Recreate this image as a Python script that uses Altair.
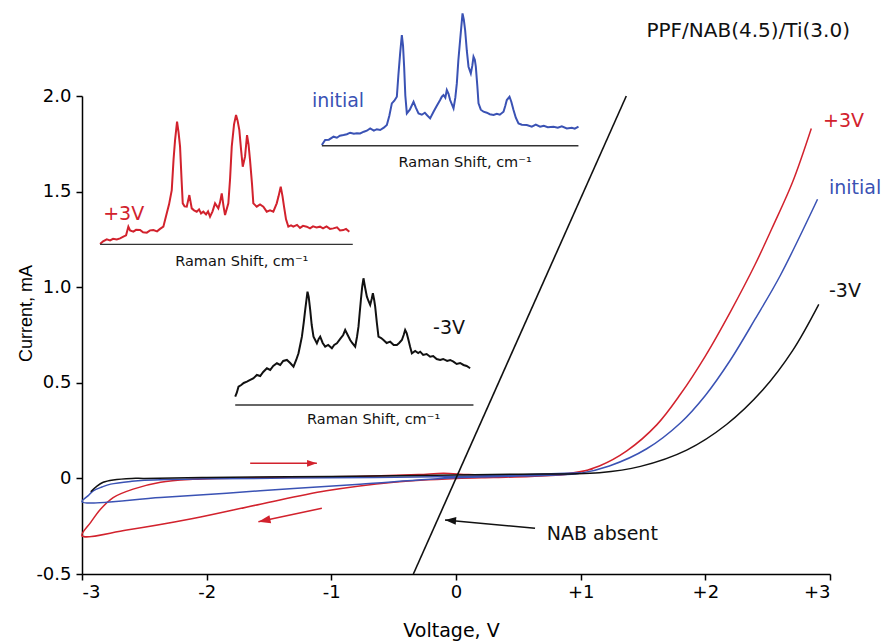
import altair as alt
import pandas as pd

# ---------------- I-V sweeps (Voltage, V ; Current, mA), in sweep order ----------------
red_v = [2.85, 2.70, 2.55, 2.40, 2.20, 2.00, 1.80, 1.61, 1.37, 1.15, 0.94, 0.60, 0.30, 0.00,
         -0.50, -1.04, -1.57, -2.11, -2.64, -3.00,
         -2.93, -2.85, -2.75, -2.59, -2.37, -2.11, -1.50, -0.80, -0.30, -0.10, 0.10, 0.50, 0.90, 1.10]
red_i = [1.83, 1.55, 1.33, 1.12, 0.87, 0.64, 0.44, 0.28, 0.144, 0.065, 0.025, 0.01, 0.005, 0.0,
         -0.02, -0.065, -0.135, -0.21, -0.27, -0.30,
         -0.23, -0.16, -0.10, -0.056, -0.02, -0.005, 0.005, 0.01, 0.02, 0.027, 0.02, 0.015, 0.025, 0.05]

blue_v = [2.90, 2.60, 2.40, 2.20, 2.00, 1.80, 1.53, 1.23, 0.98, 0.50, 0.00,
          -0.77, -1.57, -2.37, -3.00,
          -2.95, -2.91, -2.84, -2.77, -2.60, -2.50, -2.00, -1.00, 0.00, 0.50, 1.00]
blue_i = [1.46, 1.06, 0.834, 0.618, 0.434, 0.29, 0.155, 0.065, 0.025, 0.012, 0.003,
          -0.03, -0.065, -0.10, -0.122,
          -0.09, -0.065, -0.045, -0.03, -0.015, -0.01, -0.002, 0.003, 0.01, 0.018, 0.03]

black_v = [2.91, 2.70, 2.46, 2.17, 1.85, 1.48, 1.15, 0.50, 0.00, -1.00, -2.00, -2.50,
           -2.60, -2.75, -2.83, -2.88, -2.93]
black_i = [0.91, 0.668, 0.462, 0.282, 0.148, 0.063, 0.03, 0.022, 0.018, 0.01, 0.005, 0.0,
           0.0, -0.008, -0.02, -0.04, -0.07]

nab_v = [-0.342, 1.366]
nab_i = [-0.50, 2.00]

series_names = ["+3V", "initial", "-3V", "NAB absent"]
series_colors = ["#d2222d", "#3a52b4", "#111111", "#111111"]

# ---------------- Raman spectra (relative shift, relative intensity) ----------------
raman_red_shift = [0, 3, 6.7, 10, 13, 16.7, 20, 23.3, 26, 28.3, 30, 33.3, 36, 40, 43, 46.7, 50, 53.3, 57, 60,
                   63.3, 66.7, 69, 71.7, 73.5, 75, 77, 78.5, 80, 81.5, 82.7, 84.5, 86.7, 89.3, 91.7, 94,
                   96.7, 99, 101, 103.3, 106, 108, 110, 112.5, 115, 118.3, 120, 121.7, 123.5, 125, 128.3,
                   130, 131.7, 134, 136, 137.5, 139.3, 141, 142.7, 145, 147, 148.5, 150, 152, 153.3, 156.7,
                   160, 163.3, 166.7, 170, 173.3, 176.7, 178.5, 180.7, 182.5, 184, 186, 188.3, 191, 193.3,
                   197, 200, 203, 206.7, 210, 213, 216.5, 220, 223, 226.5, 230, 233.3, 237, 240, 243.3,
                   246, 249.3]
raman_red_int = [0.3, 3, 5, 4, 5.5, 5, 6, 7.7, 9, 17.7, 14, 12.7, 14.5, 14.3, 12, 11.7, 14, 14.3, 13, 15.5,
                 17.7, 31, 40, 54.3, 85, 104.3, 122.7, 112, 97.7, 65, 41, 38, 37.7, 49.3, 36, 34,
                 32.7, 35, 31, 32.7, 30, 33, 27.7, 33, 41, 36, 42, 51, 38, 29.3, 41,
                 65, 97.7, 120, 129.3, 124, 114.3, 95, 77.7, 87.7, 109.3, 100, 84.3, 60, 41, 37.7,
                 40, 37.7, 32.7, 34, 32.7, 41, 48, 57.7, 48, 37.7, 25, 17.7, 19, 17.7,
                 19.5, 16.5, 18.5, 17.7, 16, 18, 17, 17.7, 16, 18, 15.5, 16, 17, 14, 14.3,
                 15.5, 12.7]

raman_blue_shift = [0, 3.3, 7, 11.7, 15, 18, 21.7, 25, 28.3, 32, 35, 38.3, 42, 45, 48.3, 52, 55, 58.3, 62,
                    65, 67.5, 70, 72.5, 75, 76.5, 78.3, 80, 81.2, 82.3, 83.5, 85, 88, 91.7, 94, 96.7,
                    100, 103, 105, 108.3, 111.7, 115, 118.3, 120, 121.7, 123.5, 125, 126.7, 128.3, 131.7,
                    133.5, 135, 136.5, 138.3, 140.7, 142, 143.3, 145, 146.7, 149, 150.5, 151.7, 153, 154,
                    155.5, 156.7, 159, 161.7, 165, 168, 171.7, 175, 178, 181.7, 183.5, 185, 187.7, 189.5,
                    191.7, 194, 196.7, 200, 205, 210, 214, 218.3, 222, 226, 231.7, 236, 240, 245, 250,
                    253, 256.7]
raman_blue_int = [0.7, 5.7, 6, 9, 8, 10, 10.7, 11.5, 13, 12, 12.5, 12.3, 14, 15, 17.3, 15, 16.5, 15.7, 18,
                  20.7, 30, 42.3, 45, 49, 70, 92.3, 110.7, 100, 79, 50, 32.3, 36, 44, 38, 32.3,
                  31, 33, 30.7, 27.3, 34, 40, 45.7, 49, 50.7, 48, 55.7, 52, 45.7, 37.3,
                  48, 62.3, 85, 105.7, 132.3, 126, 115.7, 95, 79, 72.3, 80, 89, 86, 79,
                  60, 42.3, 36, 34, 33, 31.5, 30.7, 32, 31, 34, 40, 45.7, 49, 44,
                  35.7, 28, 22.3, 21, 20.7, 19, 21, 19, 20, 18.5, 19, 18, 19.5, 17.3, 18,
                  17, 19]

raman_black_shift = [0, 1.5, 3.3, 6, 8.5, 11.7, 15, 18, 21.7, 25, 28, 31.7, 35, 38, 41.7, 45, 48, 51.7,
                     55, 58.3, 61, 63.3, 65, 66.7, 68.5, 70, 72.3, 73.5, 75, 76.5, 78.3, 81.7, 83.5, 85,
                     87.5, 90, 93, 96.7, 99, 101.7, 105, 108, 110, 112.5, 115, 117, 120, 121.8, 123.3,
                     124.5, 125.7, 127, 128.3, 130, 131.7, 133.3, 135, 136.5, 137.7, 139, 140, 141.7,
                     143.3, 146, 148.3, 151.5, 155, 158.5, 161.7, 164, 166.7, 168.5, 170, 171.5, 173.3,
                     175, 176.7, 180, 183, 185, 188, 191.5, 195, 198, 201.5, 205, 208, 212, 215, 218.3,
                     221.5, 225, 228.3, 231.5, 235]
raman_black_int = [8.3, 12, 18.3, 20, 22, 23.3, 25, 26.5, 30, 29, 33, 36.7, 35, 39, 41.7, 40, 44, 45,
                   42, 38.3, 45, 51.7, 60, 68.3, 82, 95, 113.3, 108, 95, 80, 68.3, 61.7, 66, 68.3,
                   62, 58.3, 60, 56.7, 60, 61.7, 66, 70, 75, 70, 65, 62, 58.3, 68, 78.3,
                   92, 105, 118, 126.7, 117, 108.3, 104, 100, 106, 111.7, 105, 98.3, 82,
                   68.3, 67, 65, 62, 63.3, 60, 60, 62, 65, 70, 75, 72, 65,
                   58, 51.7, 54, 52, 53.3, 50, 51, 48.3, 49, 46, 45, 46, 44, 45, 43.3,
                   41, 42, 40, 39, 36.7]

# inset placement: (start voltage, baseline current, end voltage) and unit sizes
inset_names = ["+3V", "initial", "-3V"]
inset_v0 = [-2.855, -1.076, -1.771]
inset_i0 = [1.224, 1.740, 0.384]
inset_v1 = [-0.828, 0.982, 0.140]
SHIFT_UNIT = 1 / 124.7   # V per shift unit
INT_UNIT = 1 / 191.2     # mA per intensity unit

# ---------------- annotations ----------------
label_text = ["+3V", "initial", "-3V", "+3V", "initial", "-3V", "NAB absent"]
label_v = [2.944, 2.992, 2.992, -2.830, -1.156, -0.184, 0.728]
label_i = [1.869, 1.521, 0.978, 1.385, 1.975, 0.789, -0.291]
label_color = ["#d2222d", "#3a52b4", "#111111", "#d2222d", "#3a52b4", "#111111", "#111111"]

raman_label_v = [-1.718, 0.073, -0.661]
raman_label_i = [1.133, 1.648, 0.305]

title_text = "PPF/NAB(4.5)/Ti(3.0)"
title_v, title_i = 3.160, 2.341

# arrows: (tail V, tail I, tip V, tip I)
arrow_v1 = [-1.651, -1.076, 0.634]
arrow_i1 = [0.079, -0.156, -0.261]
arrow_v2 = [-1.116, -1.585, -0.088]
arrow_i2 = [0.079, -0.227, -0.217]
arrow_color = ["#d2222d", "#d2222d", "#111111"]
arrow_angle = [90, 258, 275]
arrow_size = [150, 230, 190]

# ---------------- build tables ----------------
rows = []
for name, vs, cs in [("+3V", red_v, red_i), ("initial", blue_v, blue_i), ("-3V", black_v, black_i)]:
    col = series_colors[series_names.index(name)]
    for k, (v, c) in enumerate(zip(vs, cs)):
        rows.append({"series": name, "k": k, "V": v, "I": c, "col": col})
iv = pd.DataFrame(rows)
nab = pd.DataFrame({"V": nab_v, "I": nab_i})

spec_rows, base_rows = [], []
spectra = [(raman_red_shift, raman_red_int), (raman_blue_shift, raman_blue_int),
           (raman_black_shift, raman_black_int)]
for j, (sh, it) in enumerate(spectra):
    col = series_colors[j]
    for k, (s, h) in enumerate(zip(sh, it)):
        spec_rows.append({"inset": inset_names[j], "k": k,
                          "V": inset_v0[j] + s * SHIFT_UNIT,
                          "I": inset_i0[j] + h * INT_UNIT, "col": col})
    base_rows.append({"V": inset_v0[j], "V2": inset_v1[j], "I": inset_i0[j]})
spec = pd.DataFrame(spec_rows)
base = pd.DataFrame(base_rows)

labels = pd.DataFrame({"t": label_text, "V": label_v, "I": label_i, "col": label_color})
raman_labels = pd.DataFrame({"t": ["Raman Shift, cm\u207b\u00b9"] * 3, "V": raman_label_v, "I": raman_label_i})
title_df = pd.DataFrame({"t": [title_text], "V": [title_v], "I": [title_i]})
arrows = pd.DataFrame({"V": arrow_v1, "I": arrow_i1, "V2": arrow_v2, "I2": arrow_i2,
                       "col": arrow_color, "ang": arrow_angle, "sz": arrow_size})

# ---------------- chart ----------------
FONT = "DejaVu Sans"
xs = alt.Scale(domain=[-3, 3], nice=False, zero=False)
ys = alt.Scale(domain=[-0.5, 2.0], nice=False, zero=False)

x_axis = alt.Axis(values=[-3, -2, -1, 0, 1, 2, 3],
                  labelExpr="datum.value > 0 ? '+' + datum.value : '' + datum.value",
                  title="Voltage, V", titleX=369, titleY=62, titleBaseline="alphabetic",
                  titleAlign="center", titleFont=FONT, titleFontSize=19, titleFontWeight="normal",
                  labelFont=FONT, labelFontSize=18, labelPadding=3, tickSize=6, grid=False)
y_axis = alt.Axis(values=[-0.5, 0, 0.5, 1.0, 1.5, 2.0],
                  labelExpr="datum.value == 0 ? '0' : (datum.value < 0 ? '-' + format(-datum.value, '.1f') : format(datum.value, '.1f'))",
                  title="Current, mA", titleX=-51, titleY=217, titleAngle=270, titleBaseline="alphabetic",
                  titleAlign="center", titleFont="Liberation Sans", titleFontSize=18, titleFontWeight="normal",
                  labelFont=FONT, labelFontSize=18, labelPadding=5, tickSize=6, grid=False)

X = alt.X("V:Q", scale=xs, axis=x_axis)
Y = alt.Y("I:Q", scale=ys, axis=y_axis)
Xn = alt.X("V:Q", scale=xs)
Yn = alt.Y("I:Q", scale=ys)

curves = alt.Chart(iv).mark_line(strokeWidth=1.5, interpolate="catmull-rom").encode(
    x=X, y=Y, color=alt.Color("col:N", scale=None), detail="series:N", order="k:Q")

nab_line = alt.Chart(nab).mark_line(strokeWidth=1.6, color="#111111").encode(x=Xn, y=Yn)

spec_lines = alt.Chart(spec).mark_line(strokeWidth=2.0).encode(
    x=Xn, y=Yn, color=alt.Color("col:N", scale=None), detail="inset:N", order="k:Q")

baselines = alt.Chart(base).mark_rule(strokeWidth=1.4, color="#333333").encode(
    x=Xn, x2="V2:Q", y=Yn)

shafts = alt.Chart(arrows).mark_rule(strokeWidth=1.5).encode(
    x=Xn, y=Yn, x2="V2:Q", y2="I2:Q", color=alt.Color("col:N", scale=None))

heads = alt.Chart(arrows).mark_point(shape="M0,0L0.55,1.6L-0.55,1.6Z", filled=True, opacity=1).encode(
    x=alt.X("V2:Q", scale=xs), y=alt.Y("I2:Q", scale=ys),
    color=alt.Color("col:N", scale=None), angle=alt.Angle("ang:Q", scale=None),
    size=alt.Size("sz:Q", scale=None))

texts = alt.Chart(labels).mark_text(align="left", baseline="middle", font=FONT, fontSize=19).encode(
    x=Xn, y=Yn, text="t:N", color=alt.Color("col:N", scale=None))

raman_texts = alt.Chart(raman_labels).mark_text(align="center", baseline="middle", font=FONT,
                                                fontSize=14.5, color="#111111").encode(
    x=Xn, y=Yn, text="t:N")

title_mark = alt.Chart(title_df).mark_text(align="right", baseline="middle", font=FONT,
                                           fontSize=20, color="#111111").encode(
    x=Xn, y=Yn, text="t:N")

chart = alt.layer(curves, nab_line, spec_lines, baselines, shafts, heads, texts, raman_texts,
                  title_mark).properties(
    width=748, height=478,
    padding={"left": 82, "top": 96, "right": 51, "bottom": 70},
    autosize=alt.AutoSizeParams(type="none"),
    background="white",
).configure_view(stroke=None).configure_axis(
    domainColor="black", domainWidth=1.5, tickColor="black", tickWidth=1.5,
    labelColor="black", titleColor="black")

chart.save("out.html", embed_options={"renderer": "svg", "actions": False})
